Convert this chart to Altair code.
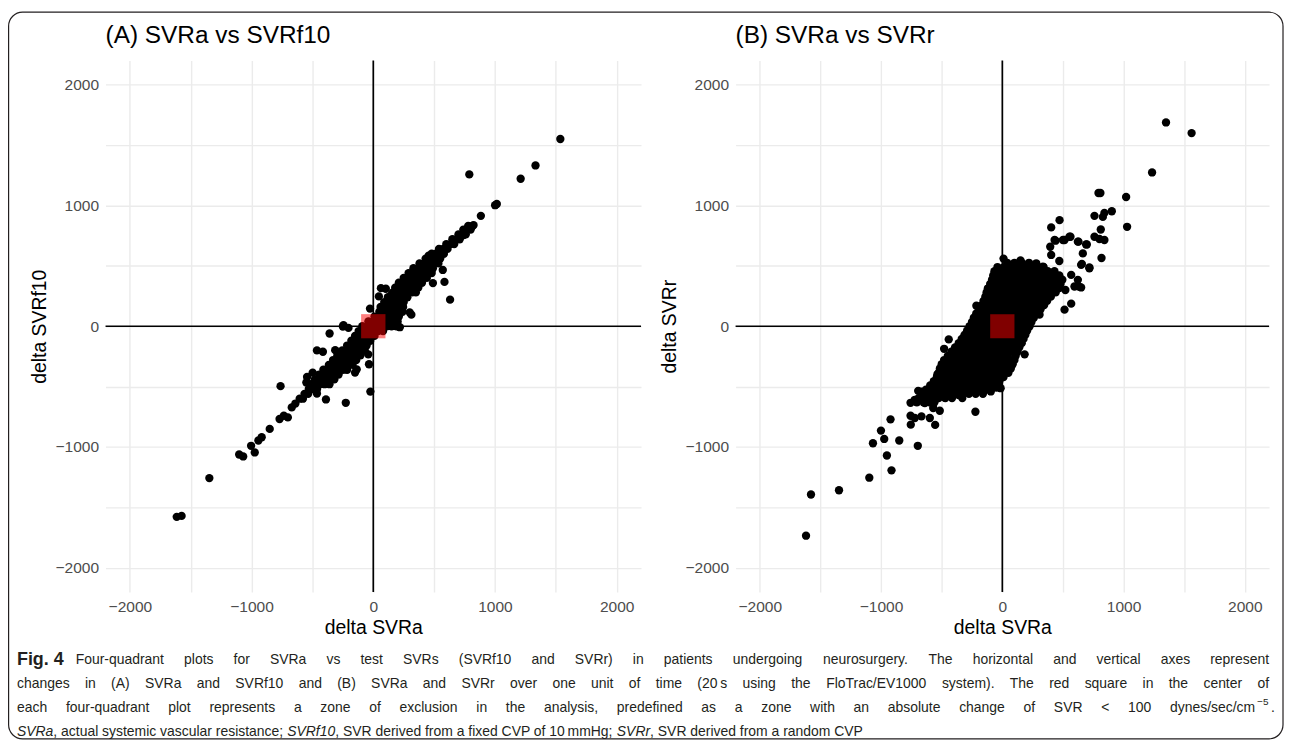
import altair as alt
import pandas as pd

# ---------------- data ----------------
TICKS = [-2000, -1500, -1000, -500, 0, 500, 1000, 1500, 2000]
DOMAIN = [-2200, 2200]
EXCLUSION = [-100, 100]

# Panel A: SVRa (x) vs SVRf10 (y) - isolated points
a_outliers = [
    (-1615, -1578), (-1575, -1570), (-1347, -1257), (-1102, -1062), (-1069, -1078),
    (-1004, -990), (-974, -1045), (-944, -946), (-917, -919), (-851, -850),
    (-770, -768), (-735, -741), (-702, -755), (-762, -496), (-544, -420),
    (-498, -384), (-463, -557), (-389, -606), (-226, -634), (-340, -439),
    (-463, -200), (-414, -211), (-359, -60), (-250, -2), (-204, -14),
    (-150, -384), (-136, -357), (-41, -233), (-35, -315), (-24, -541),
    (-231, -357), (-550, -466), (-313, -198), (-245, 8),
    (1537, 1550), (1333, 1331), (1211, 1221), (789, 1257), (1001, 1002),
    (1015, 1012), (884, 914), (824, 837), (802, 815), (767, 804), (743, 755),
    (544, 631), (455, 584), (389, 508), (318, 420), (209, 343), (63, 315),
    (103, 310), (571, 466), (585, 367), (490, 357), (631, 220), (299, 115),
    (313, 96), (218, -8), (-27, 146), (46, 247), (150, 261), (212, 335),
]
# Panel A: dense band, listed row by row (delta SVRf10 : delta SVRa values)
a_band_rows = {
    -672: [-670], -640: [-640], -600: [-605, -578], -560: [-565, -535],
    -520: [-530, -495, -462], -480: [-515, -478, -440, -400, -360],
    -440: [-480, -440, -400, -360, -320], -400: [-445, -405, -365, -325, -285],
    -360: [-410, -370, -330, -290, -250, -215], -320: [-365, -325, -285, -245, -205, -170],
    -280: [-330, -290, -250, -210, -170, -140], -240: [-295, -255, -215, -175, -135, -105],
    -200: [-255, -215, -175, -135, -95, -70], -160: [-215, -175, -135, -95, -55],
    -120: [-180, -140, -100, -60, -25], -80: [-150, -110, -70, -30, 10],
    -40: [-120, -80, -40, 0, 40, 80], 0: [-90, -50, -10, 30, 70, 110, 150, 190],
    40: [-40, 0, 40, 80, 120, 160, 200], 80: [10, 50, 90, 130, 170, 210],
    120: [50, 90, 130, 170, 210, 240], 160: [60, 100, 140, 180, 220, 245],
    200: [90, 130, 170, 210, 250], 240: [120, 160, 200, 240, 280],
    280: [160, 200, 240, 280, 320, 350], 320: [180, 220, 260, 300, 340, 370],
    360: [210, 250, 290, 330, 370, 400], 400: [250, 290, 330, 370, 410, 440],
    440: [290, 330, 370, 410, 450, 480], 480: [330, 370, 410, 450, 490],
    520: [380, 420, 460, 500, 535], 560: [430, 470, 510, 550],
    600: [480, 515, 550, 580], 640: [540, 575, 610], 680: [600, 635, 665],
    720: [650, 685, 710], 760: [700, 735, 760], 800: [740, 775, 800], 830: [780, 815],
}

# Panel B: SVRa (x) vs SVRr (y) - isolated points
b_outliers = [
    (-1619, -1734), (-1578, -1393), (-1347, -1358), (-1097, -1254), (-914, -1193),
    (-952, -1070), (-1067, -969), (-974, -933), (-1001, -864), (-850, -946),
    (-697, -990), (-922, -771), (-755, -815), (-757, -741), (-722, -760),
    (-667, -746), (-598, -760), (-554, -817), (-757, -634), (-722, -609),
    (-694, -535), (-667, -541), (-639, -636), (-570, -677), (-516, -700),
    (-222, -708), (-557, -576), (-529, -494), (-475, -590), (-360, -570),
    (-337, -535), (-535, -398), (-488, -370), (-151, -488), (-49, -508),
    (-14, -513), (-480, -187), (-442, -109), (-313, -82),
    (1350, 1687), (1561, 1599), (1235, 1273), (793, 1103), (809, 1103),
    (1021, 1070), (1029, 823), (903, 952), (842, 938), (829, 905), (760, 914),
    (812, 801), (760, 741), (801, 722), (842, 714), (818, 565), (472, 878),
    (403, 818), (439, 708), (513, 714), (562, 741), (628, 700), (691, 677),
    (664, 603), (395, 658), (403, 590), (656, 516), (718, 486), (568, 425),
    (623, 384), (595, 329), (650, 321), (568, 187), (513, 137), (121, 477),
    (33, 439), (280, 521), (335, 494), (-49, 370), (184, -233), (-214, 170),
    (-96, 274), (307, 96), (631, 329), (718, 480), (650, 508), (431, 714),
    (500, 714), (554, 741), (623, 700), (697, 677), (-40, -470), (-95, -540),
    (10, 560), (150, 545), (-120, 310), (520, 300), (470, 540), (-300, -300),
]
# Panel B: dense cloud, listed row by row (delta SVRr : delta SVRa values)
b_core_rows = {
    525: [40, 100, 160, 220],
    490: [-40, 15, 70, 125, 180, 235, 290, 340],
    455: [-65, -10, 45, 100, 155, 210, 265, 320, 375, 430],
    420: [-75, -20, 35, 90, 145, 200, 255, 310, 365, 420, 470],
    385: [-85, -30, 25, 80, 135, 190, 245, 300, 355, 410, 465, 495],
    350: [-100, -45, 10, 65, 120, 175, 230, 285, 340, 395, 450, 480],
    315: [-115, -60, -5, 50, 105, 160, 215, 270, 325, 380, 435, 470],
    280: [-130, -75, -20, 35, 90, 145, 200, 255, 310, 365, 420, 440],
    245: [-140, -85, -30, 25, 80, 135, 190, 245, 300, 355, 400],
    210: [-155, -100, -45, 10, 65, 120, 175, 230, 285, 340, 370],
    175: [-170, -115, -60, -5, 50, 105, 160, 215, 270, 325, 345],
    140: [-190, -135, -80, -25, 30, 85, 140, 195, 250, 300, 315],
    105: [-215, -160, -105, -50, 5, 60, 115, 170, 225, 285],
    70: [-235, -180, -125, -70, -15, 40, 95, 150, 205, 260],
    35: [-250, -195, -140, -85, -30, 25, 80, 135, 190, 240],
    0: [-270, -215, -160, -105, -50, 5, 60, 115, 170, 225],
    -35: [-290, -235, -180, -125, -70, -15, 40, 95, 150, 205],
    -70: [-310, -255, -200, -145, -90, -35, 20, 75, 130, 190],
    -105: [-335, -280, -225, -170, -115, -60, -5, 50, 105, 160, 175],
    -140: [-360, -305, -250, -195, -140, -85, -30, 25, 80, 135, 160],
    -175: [-390, -335, -280, -225, -170, -115, -60, -5, 50, 105, 140],
    -210: [-420, -365, -310, -255, -200, -145, -90, -35, 20, 75, 125],
    -245: [-450, -395, -340, -285, -230, -175, -120, -65, -10, 45, 110],
    -280: [-480, -425, -370, -315, -260, -205, -150, -95, -40, 15, 70, 100],
    -315: [-500, -445, -390, -335, -280, -225, -170, -115, -60, -5, 50, 85],
    -350: [-515, -460, -405, -350, -295, -240, -185, -130, -75, -20, 35, 70],
    -385: [-525, -470, -415, -360, -305, -250, -195, -140, -85, -30, 25, 50],
    -420: [-540, -485, -430, -375, -320, -265, -210, -155, -100, -45, 10],
    -455: [-565, -510, -455, -400, -345, -290, -235, -180, -125, -70, -25],
    -490: [-595, -540, -485, -430, -375, -320, -265, -210, -155, -100, -60],
    -525: [-630, -575, -520, -465, -410, -355, -300, -245, -190, -135, -100],
    -560: [-660, -605, -550, -495, -440, -385, -330, -275, -220, -160],
    -595: [-690, -635, -580, -525, -470, -415, -330],
    -630: [-705, -650, -600, -560],
}

CAPTION_FIG = "Fig. 4"
CAPTION_L1 = ("Four-quadrant plots for SVRa vs test SVRs (SVRf10 and SVRr) in patients undergoing "
              "neurosurgery. The horizontal and vertical axes represent")
CAPTION_L2 = ("changes in (A) SVRa and SVRf10 and (B) SVRa and SVRr over one unit of time (20\u2009s using "
              "the FloTrac/EV1000 system). The red square in the center of")
CAPTION_L3 = ("each four-quadrant plot represents a zone of exclusion in the analysis, predefined as a "
              "zone with an absolute change of SVR < 100 dynes/sec/cm")
CAPTION_L4 = [("SVRa", "italic"), (", actual systemic vascular resistance; ", "normal"),
              ("SVRf10", "italic"), (", SVR derived from a fixed CVP of 10\u2009mmHg; ", "normal"),
              ("SVRr", "italic"), (", SVR derived from a random CVP", "normal")]

# ---------------- layout constants ----------------
FONT = "Liberation Sans"
CAP_FONT = "Liberation Sans"
CAP_SIZE = 14
PANEL_A_W, PANEL_B_W, PANEL_H = 538, 536, 534
ORIGIN_X, ORIGIN_Y = 106, 647.5          # page position of the caption cell origin


def rows_to_points(rows):
    return [(x, y) for y, xs in rows.items() for x in xs]


dfA = pd.DataFrame(a_outliers + rows_to_points(a_band_rows), columns=["x", "y"])
dfB = pd.DataFrame(b_outliers + rows_to_points(b_core_rows), columns=["x", "y"])
zero_df = pd.DataFrame({"x": [0], "y": [0]})
square_df = pd.DataFrame({"x": [EXCLUSION[0]], "x2": [EXCLUSION[1]],
                          "y": [EXCLUSION[0]], "y2": [EXCLUSION[1]]})

LAB = "datum.value % 1000 === 0 ? datum.label : ''"


def panel(df, title, xtitle, ytitle, width):
    xs = alt.Scale(domain=DOMAIN, nice=False, zero=False)
    ys = alt.Scale(domain=DOMAIN, nice=False, zero=False)
    xax = alt.Axis(values=TICKS, format="d", labelExpr=LAB, title=xtitle,
                   labelPadding=8, titlePadding=3)
    yax = alt.Axis(values=TICKS, format="d", labelExpr=LAB, title=ytitle,
                   labelPadding=7, titlePadding=6)
    vline = alt.Chart(zero_df).mark_rule(color="black", strokeWidth=1.7).encode(
        x=alt.X("x:Q", scale=xs, axis=xax))
    hline = alt.Chart(zero_df).mark_rule(color="black", strokeWidth=1.7).encode(
        y=alt.Y("y:Q", scale=ys, axis=yax))
    pts = alt.Chart(df).mark_circle(size=70, color="black", opacity=1).encode(
        x=alt.X("x:Q", scale=xs, axis=xax), y=alt.Y("y:Q", scale=ys, axis=yax))
    sq = alt.Chart(square_df).mark_rect(color="#ff0000", opacity=0.5).encode(
        x=alt.X("x:Q", scale=xs, axis=xax), x2="x2:Q",
        y=alt.Y("y:Q", scale=ys, axis=yax), y2="y2:Q")
    return alt.layer(vline, hline, pts, sq).properties(
        width=width, height=PANEL_H,
        title=alt.TitleParams(title, anchor="start", frame="group", offset=11,
                              fontSize=24.5, font=FONT, fontWeight="normal", color="black"))


# ---------------- caption layout (justified words, Arial metrics) ----------------
AW = {' ': 278, 'a': 556, 'b': 556, 'c': 500, 'd': 556, 'e': 556, 'f': 278, 'g': 556, 'h': 556,
      'i': 222, 'j': 222, 'k': 500, 'l': 222, 'm': 833, 'n': 556, 'o': 556, 'p': 556, 'q': 556,
      'r': 333, 's': 500, 't': 278, 'u': 556, 'v': 500, 'w': 722, 'x': 500, 'y': 500, 'z': 500,
      'A': 667, 'B': 667, 'C': 722, 'D': 722, 'E': 667, 'F': 611, 'G': 778, 'H': 722, 'I': 278,
      'J': 500, 'K': 667, 'L': 556, 'M': 833, 'N': 722, 'O': 778, 'P': 667, 'Q': 778, 'R': 722,
      'S': 667, 'T': 611, 'U': 722, 'V': 667, 'W': 944, 'X': 667, 'Y': 667, 'Z': 611,
      '.': 278, ',': 278, '(': 333, ')': 333, '-': 333, '/': 278, ';': 278, '<': 584, ':': 278,
      '\u2009': 200}


def text_w(s, size):
    return sum(AW.get(c, 556) for c in s) / 1000 * size


words = []


def justify(text, left, right, y):
    ws = text.split(" ")
    widths = [text_w(w, CAP_SIZE) for w in ws]
    gap = (right - left - sum(widths)) / (len(ws) - 1)
    x = left
    for w, wd in zip(ws, widths):
        words.append({"t": w, "x": x + wd / 2 - ORIGIN_X, "y": y - ORIGIN_Y, "s": "normal"})
        x += wd + gap


justify(CAPTION_L1, 76, 1275, 661)
justify(CAPTION_L2, 17, 1275, 685)
justify(CAPTION_L3, 17, 1261, 709)
x = 17
for seg, style in CAPTION_L4:
    wd = text_w(seg, CAP_SIZE)
    words.append({"t": seg, "x": x - ORIGIN_X, "y": 733 - ORIGIN_Y, "s": style})
    x += wd
cap_df = pd.DataFrame(words)

XP = alt.X("x:Q", scale=None, axis=None)
YP = alt.Y("y:Q", scale=None, axis=None)
cap_just = alt.Chart(cap_df).transform_filter(
    "datum.s === 'normal' && datum.y < 80").mark_text(
    font=CAP_FONT, fontSize=CAP_SIZE, color="#231f20", align="center", baseline="middle"
).encode(x=XP, y=YP, text="t:N")
cap_last = alt.Chart(cap_df).transform_filter(
    "datum.s === 'normal' && datum.y >= 80").mark_text(
    font=CAP_FONT, fontSize=CAP_SIZE, color="#231f20", align="left", baseline="middle"
).encode(x=XP, y=YP, text="t:N")
cap_italic = alt.Chart(cap_df).transform_filter("datum.s === 'italic'").mark_text(
    font=CAP_FONT, fontSize=CAP_SIZE, fontStyle="italic", color="#231f20",
    align="left", baseline="middle").encode(x=XP, y=YP, text="t:N")
one = pd.DataFrame({"k": [0]})
cap_fig = alt.Chart(one).mark_text(
    text=CAPTION_FIG, font=CAP_FONT, fontSize=18, fontWeight="bold", color="#231f20",
    align="left", baseline="middle").encode(x=alt.value(17 - ORIGIN_X), y=alt.value(661 - ORIGIN_Y))
cap_sup = alt.Chart(one).mark_text(
    text="\u22125", font=CAP_FONT, fontSize=10, color="#231f20", align="left",
    baseline="middle").encode(x=alt.value(1263 - ORIGIN_X), y=alt.value(703 - ORIGIN_Y))
cap_dot = alt.Chart(one).mark_text(
    text=".", font=CAP_FONT, fontSize=CAP_SIZE, color="#231f20", align="left",
    baseline="middle").encode(x=alt.value(1277 - ORIGIN_X), y=alt.value(709 - ORIGIN_Y))
frame = alt.Chart(one).mark_rect(fillOpacity=0, stroke="#231f20", strokeWidth=1.2,
                                 cornerRadius=14).encode(
    x=alt.value(8.6 - ORIGIN_X), x2=alt.value(1289 - ORIGIN_X),
    y=alt.value(10 - ORIGIN_Y), y2=alt.value(740 - ORIGIN_Y))
caption = alt.layer(frame, cap_just, cap_last, cap_italic, cap_fig, cap_sup, cap_dot).properties(
    width=PANEL_A_W, height=86)

chartA = panel(dfA, "(A) SVRa vs SVRf10", "delta SVRa", "delta SVRf10", PANEL_A_W)
chartB = panel(dfB, "(B) SVRa vs SVRr", "delta SVRa", "delta SVRr", PANEL_B_W)

chart = alt.concat(chartA, chartB, caption, columns=2, bounds="flush",
                   spacing={"row": 55, "column": 95}).properties(
    padding={"left": 0, "top": 1, "right": 0, "bottom": 0}
).configure_view(stroke=None).configure_axis(
    domain=False, ticks=False, grid=True, gridColor="#ebebeb", gridWidth=1.4,
    labelColor="#4d4d4d", labelFontSize=15.6, labelFont=FONT,
    titleFont=FONT, titleFontSize=19.5, titleFontWeight="normal", titleColor="black"
)

chart.save("out.html", embed_options={"renderer": "svg", "actions": False})
